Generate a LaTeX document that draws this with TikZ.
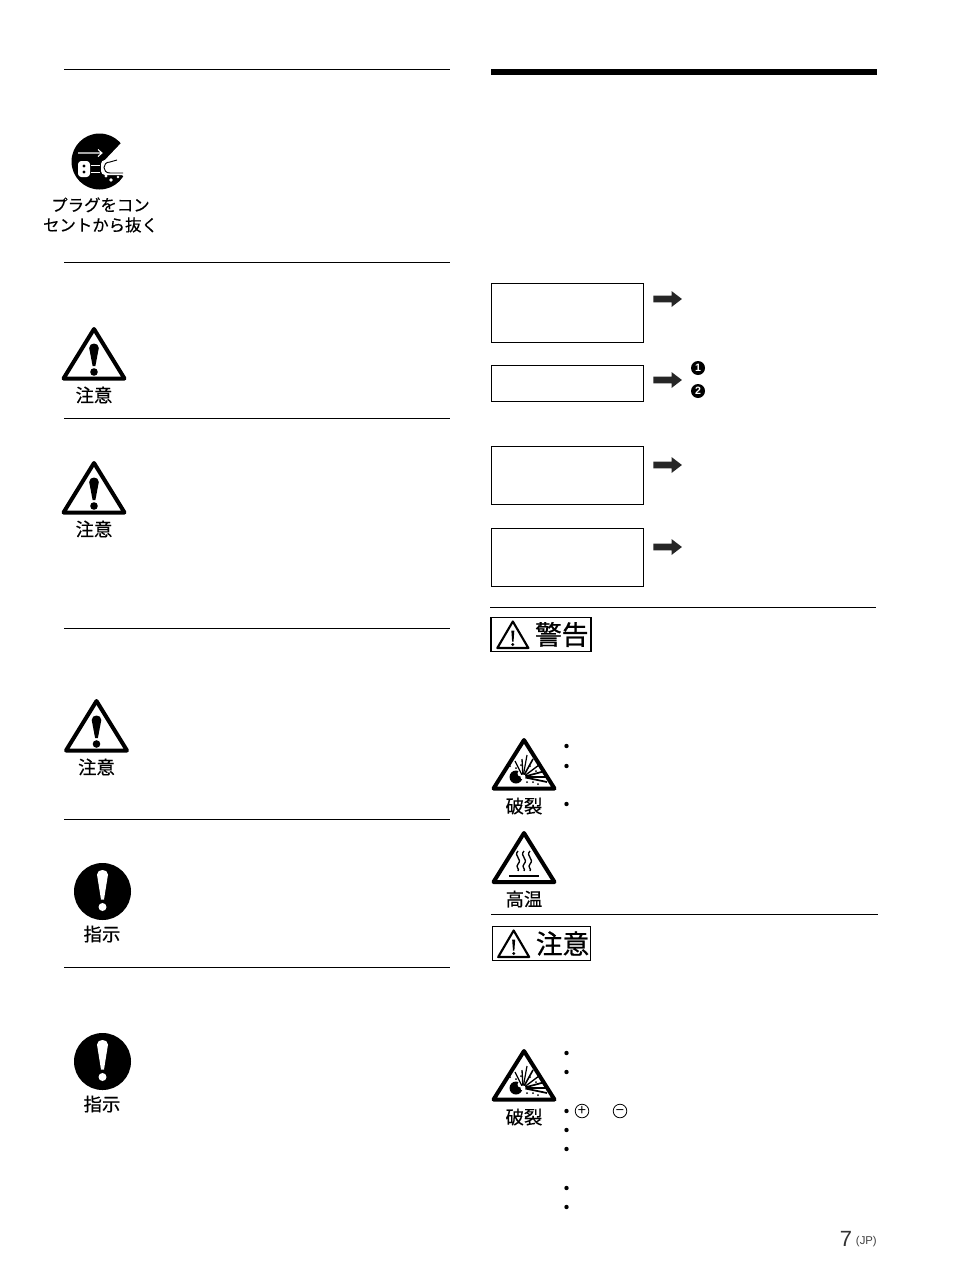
\documentclass[tikz,border=0pt]{standalone}
\usepackage{fontspec}
\setmainfont{Noto Sans CJK JP}
\newfontfamily\signfont[FakeBold=.35]{Noto Sans CJK JP}
\newfontfamily\headfont[FakeBold=.9]{Noto Sans CJK JP}
\newfontfamily\pagefont{Liberation Sans}
\usetikzlibrary{positioning,shapes.arrows}
\newcommand*\cautionsign[4]{
  \begin{scope}[shift={(#2,#3)}]
    \draw[signline] (0,2) -- (30.5,51.5) -- (-30.5,51.5) -- cycle;
    \fill (-4.8,21) .. controls (-4.8,15) and (4.8,15) .. (4.8,21) -- (1.4,39) -- (-1.4,39) -- cycle;
    \fill (0,45) circle (3.8);
    \node[signlabel] (#1) at (0,68) {#4};
  \end{scope}}
\newcommand*\burstsign[3]{
  \begin{scope}[shift={(#2,#3)}]
    \draw[signline] (0,2) -- (30.5,50.5) -- (-30.5,50.5) -- cycle;
    \fill (-8,39) circle (6.5);
    \fill[white] (-3.5,35.5) circle (3);
    \foreach \ex/\ey/\ew in {23/44/1.3,25/39/1.1,21/33/1.3,15/27/1,9/21/1.2,3/17/.9,-2/21/1,-9/23/.9}
      \draw[line width=\ew pt] (-1,39) -- (\ex,\ey);
    \fill[white] (-1,39) circle (2.5);
    \foreach \ex/\ey in {-14/28,-8/30,-3/27,6/28,12/33,14/46,3/44,9/44}
      \fill (\ex,\ey) circle (1);
    \node[signlabel] (lab#1) at (0,68) {破裂};
  \end{scope}}
\newcommand*\ordersign[3]{
  \begin{scope}[shift={(#2,#3)}]
    \fill (0,0) circle (28.5);
    \fill[white] (-5.5,-17) .. controls (-5.5,-23) and (5.5,-23) .. (5.5,-17) -- (1.5,8) -- (-1.5,8) -- cycle;
    \fill[white] (0,15.5) circle (4);
    \node[signlabel] (lab#1) at (-.5,42.5) {指示};
  \end{scope}}
\newcommand*\headsign[7]{
  \node[headbox, line width=#7, minimum width=#4, minimum height=#5] (#1) at (#2,#3) {};
  \begin{scope}[shift={(#1.west)}]
    \draw[line width=1.6pt, line join=round] (21.5,-13) -- (37,13.5) -- (6,13.5) -- cycle;
    \fill (20,-4) -- (23,-4) -- (22.2,7) -- (20.8,7) -- cycle;
    \fill (21.5,10) circle (1.6);
    \node[font=\headfont\fontsize{20pt}{20pt}\selectfont, anchor=west, inner sep=0pt] (txt#1) at (43.5,0) {#6};
  \end{scope}}
\begin{document}
\begin{tikzpicture}[
      x=.75pt, y=-.75pt,
      node distance=17.25pt and 8pt,
      signline/.style={draw, line width=3pt, line join=round, fill=white},
      signlabel/.style={font=\signfont\fontsize{13.8pt}{15pt}\selectfont, inner sep=0pt, align=center},
      plugtext/.style={font=\signfont\fontsize{12.3pt}{15pt}\selectfont, inner sep=0pt, align=center},
      infobox/.style={draw, line width=.6pt, minimum width=114.5pt, inner sep=0pt, outer sep=0pt},
      headbox/.style={draw, inner sep=0pt, outer sep=0pt},
      goarrow/.style={single arrow, fill=black!85, minimum height=21.5pt, minimum width=12pt,
        single arrow head extend=3pt, single arrow tip angle=75, inner sep=2pt},
      numdot/.style={circle, fill=black, text=white, inner sep=0pt, minimum size=10.5pt,
        font=\pagefont\bfseries\fontsize{8pt}{8pt}\selectfont},
      polarity/.style={circle, draw, line width=.6pt, inner sep=0pt, minimum size=10.2pt,
        font=\fontsize{11pt}{11pt}\selectfont},
      rule/.style={line width=.7pt},
    ]
      \useasboundingbox (0,0) rectangle (954,1274);
      % rules
      \foreach \ry in {69.5,262.5,418.5,628.5,819.5,967.5}
        \draw[rule] (64,\ry) -- (450,\ry);
      \draw[line width=4.5pt] (491,72) -- (877,72);
      \draw[rule] (490,607.5) -- (876,607.5);
      \draw[rule] (491,914.5) -- (878,914.5);

      % unplug sign
      \fill (99.5,161.5) circle (28);
      \fill[white] (123,141) -- (131,141) -- (131,162) -- (103,162) -- cycle;
      \draw[white, line width=.8pt] (78,153) -- (102,153) (98,149.5) -- (102,153) -- (98,156.5);
      \fill[white, rounded corners=2.5pt] (78,161) rectangle (90,177);
      \fill (84,166) circle (1.7) (84,172) circle (1.7);
      \draw[white, line width=1pt] (91,165.5) -- (100,165.5) (91,172.5) -- (100,172.5);
      \fill[white, rounded corners=3pt] (101,160) rectangle (131,175);
      \draw[line width=.7pt] (110,162) .. controls (102,162) and (102,173) .. (110,173);
      \draw[line width=.7pt] (110,162) -- (117,160) (110,173) -- (123,173);
      \fill[white] (106,176) circle (1.6) (111,180) circle (1.8) (118,177) circle (1.4);
      \fill[white] (122,175) -- (131,175) -- (131,182) -- cycle;
      \node[plugtext] (unplug) at (100.5,215) {プラグをコン\\セントから抜く};

      % caution signs
      \cautionsign{cauA}{94}{327}{注意}
      \cautionsign{cauB}{94}{461}{注意}
      \cautionsign{cauC}{96.5}{699}{注意}
      \ordersign{A}{102.5}{891.5}
      \ordersign{B}{102.5}{1061.5}

      % boxes and block arrows
      \node[infobox, minimum height=44pt, anchor=north west] (boxa) at (491,283.5) {};
      \node[infobox, minimum height=27pt, below=of boxa] (boxb) {};
      \node[infobox, minimum height=43.5pt, below=34pt of boxb] (boxc) {};
      \node[infobox, minimum height=43.5pt, below=18pt of boxc] (boxd) {};
      \node[goarrow, anchor=west] (goa) at (653,299) {};
      \node[goarrow, anchor=west] (gob) at (653,380) {};
      \node[goarrow, anchor=west] (goc) at (653,465) {};
      \node[goarrow, anchor=west] (god) at (653,547) {};
      \node[numdot] (numa) at (698,368) {1};
      \node[numdot] (numb) at (698,391) {2};

      % warning part
      \headsign{warnbox}{541}{634.5}{74.5pt}{25.5pt}{警告}{1.4pt}
      \burstsign{A}{524}{738}
      \begin{scope}[shift={(524,831)}]
        \draw[signline] (0,2) -- (30.5,51) -- (-30.5,51) -- cycle;
        \foreach \wx in {-6,0,6}
          \draw[line width=1pt] (\wx,20) .. controls (\wx-5,25) and (\wx+5,28) .. (\wx,33) .. controls (\wx-3,36) and (\wx+2,38) .. (\wx,40);
        \draw[line width=1.2pt] (-15,45) -- (15,45);
        \node[signlabel] (labheat) at (0,68) {高温};
      \end{scope}
      \foreach \by in {746,766,804,1053,1072,1111,1130,1149,1188,1207}
        \fill (566.5,\by) circle (2.2);

      % caution part
      \headsign{cautbox}{541.5}{943.5}{74pt}{25pt}{注意}{.7pt}
      \burstsign{B}{524}{1049}
      \node[polarity] (plus) at (582,1111) {\smash{\raisebox{-3.6pt}{+}}};
      \node[polarity] (minus) at (620,1111) {\smash{\raisebox{-3.6pt}{−}}};

      % page number
      \node[font=\pagefont\fontsize{16.5pt}{16.5pt}\selectfont, text=black!80, inner sep=0pt] (pageno) at (846,1239) {7};
      \node[font=\pagefont\fontsize{8.5pt}{8.5pt}\selectfont, text=black!75, inner sep=0pt, right=2.5pt of pageno, yshift=-2pt] (pagetag) {(JP)};
\end{tikzpicture}
\end{document}
